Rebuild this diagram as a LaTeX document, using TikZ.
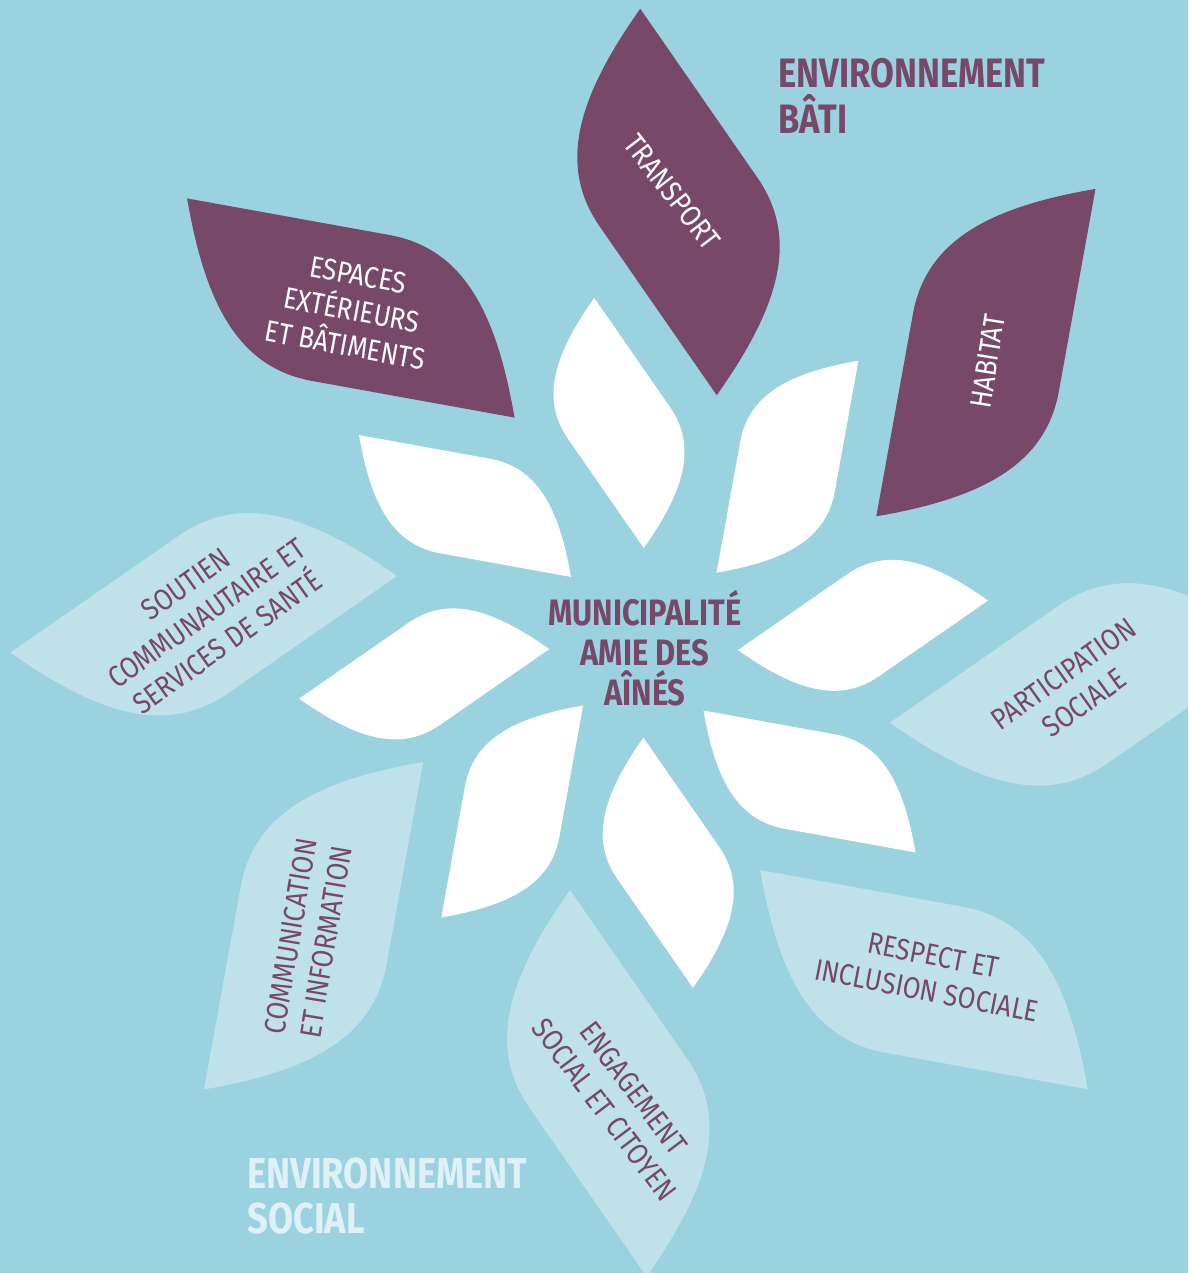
\documentclass[tikz,border=0pt]{standalone}
\usepackage{fontspec}
\newfontfamily\petalfont{Fira Sans}[FakeStretch=0.86]
\newfontfamily\titlefont{Fira Sans}[FakeStretch=0.84]

\definecolor{bgblue}{HTML}{9AD2E0}
\definecolor{plum}{HTML}{774868}
\definecolor{paleblue}{HTML}{BFE2EA}
\definecolor{mist}{HTML}{DFF1F6}

\tikzset{
  leaf/.pic = {
    \fill (-1,0) -- (-0.05,0.414) .. controls (0.30,0.57) and (0.62,0.40) .. (1,0)
      -- (0.05,-0.414) .. controls (-0.30,-0.57) and (-0.62,-0.40) .. cycle;
  },
  inner leaf/.style = {fill=white, scale=1.275},
  outer leaf/.style = {scale=1.97},
  leaf label/.style = {align=center, inner sep=0pt, font=\petalfont\fontsize{8.5}{10.2}\selectfont},
  heading/.style = {align=left, anchor=base west, inner sep=0pt, font=\titlefont\bfseries\fontsize{11.7}{13}\selectfont}
}

\begin{document}
\begin{tikzpicture}

\useasboundingbox (-6.436,-6.294) rectangle (5.444,6.436);
\clip (-6.436,-6.294) rectangle (5.444,6.436);
\fill[bgblue] (-6.436,-6.294) rectangle (5.444,6.436);

% inner white petals
\pic[inner leaf, rotate=101.2] at (-0.246,2.206) {leaf};
\pic[inner leaf, rotate=56.2] at (1.439,1.769) {leaf};
\pic[inner leaf, rotate=11.2] at (2.194,0.183) {leaf};
\pic[inner leaf, rotate=-33.8] at (1.659,-1.379) {leaf};
\pic[inner leaf, rotate=-78.8] at (0.246,-2.192) {leaf};
\pic[inner leaf, rotate=-123.8] at (-1.314,-1.679) {leaf};
\pic[inner leaf, rotate=-168.8] at (-2.194,-0.303) {leaf};
\pic[inner leaf, rotate=146.2] at (-1.786,1.376) {leaf};

% outer petals
\pic[outer leaf, fill=plum, rotate=101.2] at (0.349,4.416) {leaf};
\pic[outer leaf, fill=plum, rotate=56.2] at (3.423,2.910) {leaf};
\pic[outer leaf, fill=paleblue, rotate=11.2] at (4.396,-0.408) {leaf};
\pic[outer leaf, fill=paleblue, rotate=-33.8] at (2.804,-3.361) {leaf};
\pic[outer leaf, fill=paleblue, rotate=-78.8] at (-0.353,-4.397) {leaf};
\pic[outer leaf, fill=paleblue, rotate=-123.8] at (-3.300,-2.821) {leaf};
\pic[outer leaf, fill=paleblue, rotate=-168.8] at (-4.399,0.293) {leaf};
\pic[outer leaf, fill=plum, rotate=146.2] at (-2.928,3.356) {leaf};

\node[leaf label, text=white, rotate=-52.5] (transport) at (0.284,4.516) {TRANSPORT};
\node[leaf label, text=white, rotate=81] (habitat) at (3.44,2.82) {HABITAT};
\node[leaf label, text=white, rotate=-10.5] (espaces) at (-2.919,3.336) {ESPACES\\EXTÉRIEURS\\ET BÂTIMENTS};
\node[leaf label, text=plum, rotate=35.5] (participation) at (4.304,-0.447) {PARTICIPATION\\SOCIALE};
\node[leaf label, text=plum, rotate=-11] (respect) at (2.864,-3.294) {RESPECT ET\\INCLUSION SOCIALE};
\node[leaf label, text=plum, rotate=-53] (engagement) at (-0.246,-4.554) {ENGAGEMENT\\SOCIAL ET CITOYEN};
\node[leaf label, text=plum, rotate=80.5] (communication) at (-3.353,-2.954) {COMMUNICATION\\ET INFORMATION};
\node[leaf label, text=plum, rotate=35.5] (soutien) at (-4.369,0.303) {SOUTIEN\\COMMUNAUTAIRE ET\\SERVICES DE SANTÉ};

\node[align=center, inner sep=0pt, text=plum, font=\titlefont\bfseries\fontsize{10.45}{11.4}\selectfont] (aines) at (0.014,-0.044) {MUNICIPALITÉ\\AMIE DES\\AÎNÉS};

\node[heading, text=plum] (bati) at (1.344,5.103) {ENVIRONNEMENT\\BÂTI};
\node[heading, text=mist, font=\titlefont\bfseries\fontsize{12.3}{12.8}\selectfont] (social) at (-3.969,-5.897) {ENVIRONNEMENT\\SOCIAL};

\end{tikzpicture}
\end{document}
